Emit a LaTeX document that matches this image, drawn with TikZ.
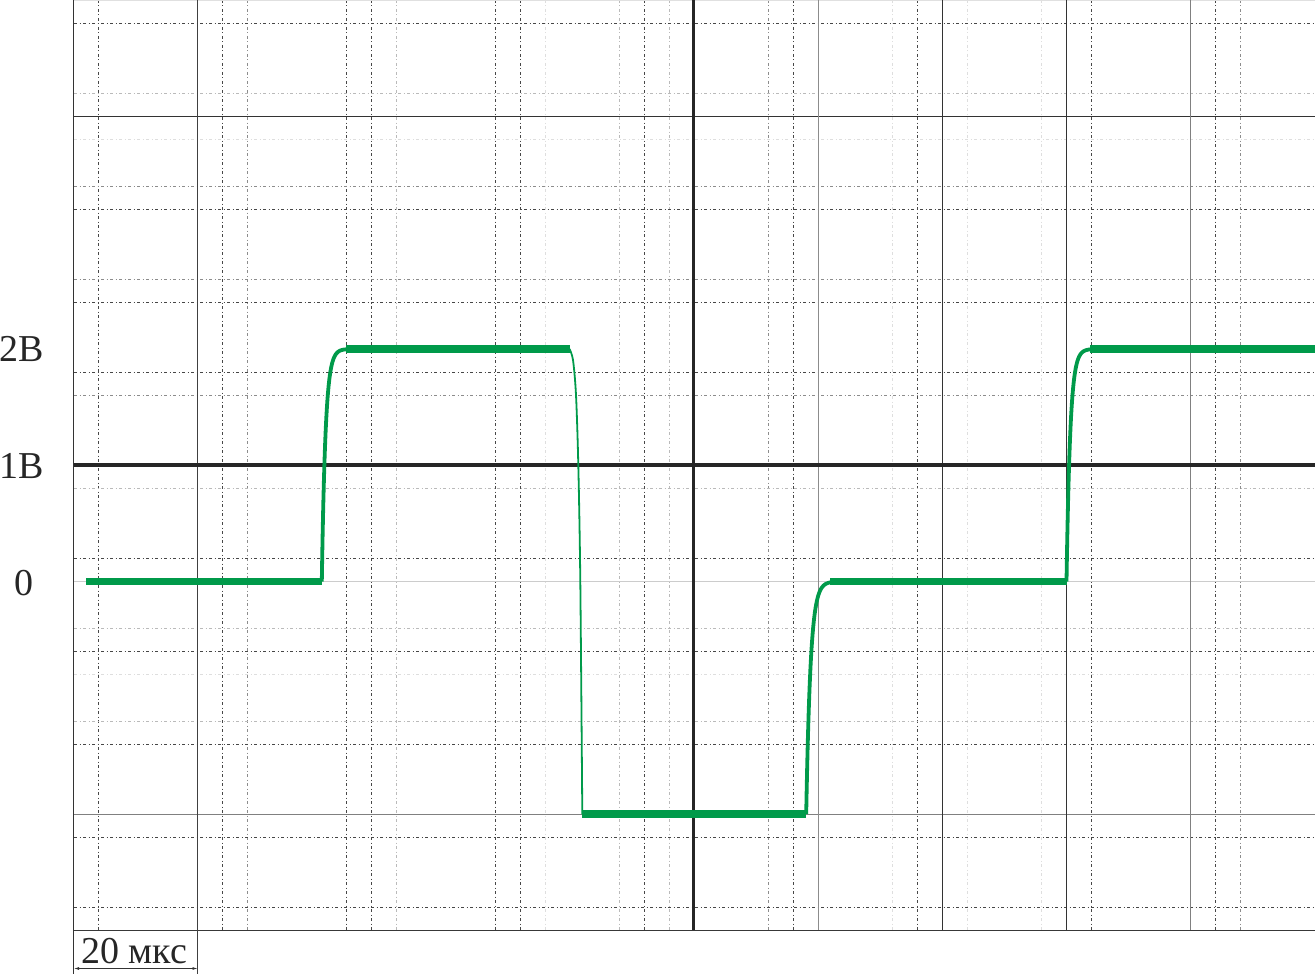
\documentclass[tikz,border=0pt]{standalone}
\usepackage{fontspec}
\setmainfont{Liberation Serif}
\usetikzlibrary{arrows.meta}
\definecolor{wave}{RGB}{0,154,74}
\tikzset{
  gpat/.style={dash pattern=on 3pt off 2.5pt on 1pt off 2.5pt, line width=0.9pt},
  gdark/.style={gpat, draw=black!72},
  gmid/.style={gpat, draw=black!45},
  glight/.style={gpat, draw=black!27},
  gfaint/.style={gpat, draw=black!13},
  flat/.style={draw=wave, line width=7.5pt},
  edge/.style={draw=wave, line width=3.8pt, line join=round},
  thinedge/.style={draw=wave, line width=1.8pt, line join=round},
  lbl/.style={inner sep=0pt, font=\fontsize{38}{38}\selectfont, text=black!85}
}
\begin{document}
\begin{tikzpicture}[x=1pt,y=-1pt]
\useasboundingbox (0,0) rectangle (1315,974);
% minor vertical dotted lines
\foreach \xx/\st in {98.5/gdark,222.5/gdark,247.3/gmid,346.2/gdark,371.5/gdark,396.7/glight,495.2/gdark,520.4/gdark,545.3/gfaint,619.3/glight,644.2/gdark,669.0/glight,768.6/gmid,793.2/gdark,892.2/gfaint,917.3/gdark,967.4/gfaint,1041.4/gfaint,1091.5/gdark,1215.6/gdark,1240.2/gmid}
  \draw[\st] (\xx,0) -- (\xx,930);
% minor horizontal dotted lines
\foreach \yy/\st in {23.3/gdark,93.3/glight,139.3/gfaint,186.3/gmid,209.3/gdark,279.3/gmid,302.3/gdark,372.3/gdark,395.3/gmid,488.3/glight,558.3/gdark,628.3/glight,651.3/gdark,674.3/gfaint,721.3/glight,744.3/gdark,837.3/gdark,907.3/gdark}
  \draw[\st] (74,\yy) -- (1315,\yy);
% solid horizontal lines
\draw[black!12, line width=1pt] (74,0.5) -- (1315,0.5);
\draw[black!80, line width=1.5pt] (74,116.3) -- (1315,116.3);
\draw[black!20, line width=1pt] (74,581.3) -- (1315,581.3);
\draw[black!50, line width=1.3pt] (74,814.3) -- (1315,814.3);
\draw[black!78, line width=1.3pt] (74,930.3) -- (1315,930.3);
% solid vertical lines
\draw[black!80, line width=1.8pt] (73.5,0) -- (73.5,974);
\draw[black!75, line width=1.5pt] (197.5,0) -- (197.5,974);
\draw[black!45, line width=1.3pt] (818.3,0) -- (818.3,930);
\draw[black!80, line width=1.3pt] (942.4,0) -- (942.4,930);
\draw[black!80, line width=1.3pt] (1066.4,0) -- (1066.4,930);
\draw[black!50, line width=1.3pt] (1190.5,0) -- (1190.5,930);
% axes
\draw[black!85, line width=3.5pt] (74,465) -- (1315,465);
\draw[black!85, line width=3.5pt] (693.5,0) -- (693.5,930);
% waveform
\draw[flat] (86,581.5) -- (322,581.5);
\draw[edge] plot[domain=0:25, samples=60] ({321.8+\x},{581.5-232.5*(1-exp(-\x/3.7))});
\draw[flat] (346,349) -- (570,349);
\draw[thinedge] plot[smooth] coordinates {(569.5,349) (573,360) (576,395) (578.3,465) (580.3,581) (582.3,814)};
\draw[flat] (582,814) -- (806,814);
\draw[edge] plot[domain=0:25, samples=60] ({806.2+\x},{814-232.5*(1-exp(-\x/4.3))});
\draw[flat] (830,581.5) -- (1066.5,581.5);
\draw[edge] plot[domain=0:24.5, samples=60] ({1066.5+\x},{581.5-232.5*(1-exp(-\x/3.7))});
\draw[flat] (1090,349) -- (1315,349);
% labels
\node[lbl, anchor=base east] (l2) at (44,361.5) {2В};
\node[lbl, anchor=base east] (l1) at (44,478.5) {1В};
\node[lbl, anchor=base] (l0) at (23.5,595.5) {0};
\node[lbl, anchor=base west] (lt) at (81,963) {20 мкс};
% dimension arrow
\coordinate (da) at (74,968.5);
\coordinate (db) at (197.5,968.5);
\draw[black!80, line width=0.8pt, {Latex[length=5pt,width=3pt]}-{Latex[length=5pt,width=3pt]}] (da) -- (db);
\end{tikzpicture}
\end{document}
